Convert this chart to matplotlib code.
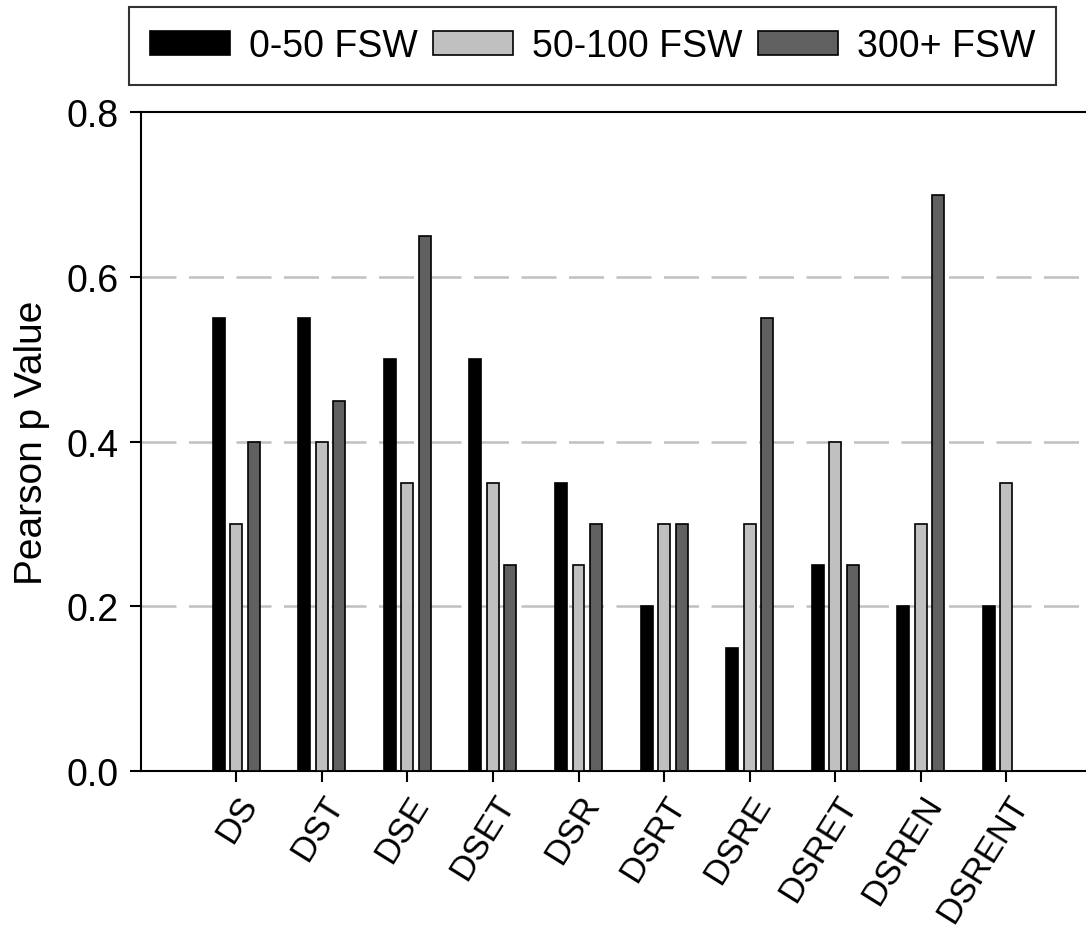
import numpy as np
import matplotlib
matplotlib.use('Agg')
import matplotlib.pyplot as plt

plt.rcParams['font.family'] = ['Liberation Sans', 'DejaVu Sans']

models = ['DS', 'DST', 'DSE', 'DSET', 'DSR', 'DSRT', 'DSRE', 'DSRET', 'DSREN', 'DSRENT']
shallow = [0.55, 0.55, 0.50, 0.50, 0.35, 0.20, 0.15, 0.25, 0.20, 0.20]
mid = [0.30, 0.40, 0.35, 0.35, 0.25, 0.30, 0.30, 0.40, 0.30, 0.35]
deep = [0.40, 0.45, 0.65, 0.25, 0.30, 0.30, 0.55, 0.25, 0.70, 0.0]
series_names = ['0-50 FSW', '50-100 FSW', '300+ FSW']

fs = 27

fig = plt.figure(figsize=(10.86, 9.37), dpi=100)
ax = fig.add_axes([0.13, 0.176, 0.87, 0.703])

x = np.arange(len(models))
w = 0.14
step = 0.205
ax.bar(x - step, shallow, w, color='black', edgecolor='black', linewidth=1.2,
       label=series_names[0], zorder=3)
ax.bar(x, mid, w, color='#c0c0c0', edgecolor='black', linewidth=1.2,
       label=series_names[1], zorder=3)
ax.bar(x + step, deep, w, color='#606060', edgecolor='black', linewidth=1.2,
       label=series_names[2], zorder=3)

ax.set_xlim(-1.11, 9.93)
ax.set_ylim(0, 0.8)
ax.set_yticks([0.0, 0.2, 0.4, 0.6, 0.8])
ax.set_yticklabels(['%.1f' % v for v in [0.0, 0.2, 0.4, 0.6, 0.8]], fontsize=fs)
ax.set_xticks(x)
ax.set_xticklabels(models, rotation=58, ha='right', rotation_mode='anchor', fontsize=25)
ax.tick_params(axis='both', direction='out', length=8, width=1.5, pad=5)
ax.tick_params(axis='y', pad=8)
ax.set_ylabel('Pearson p Value', fontsize=28, labelpad=12)

for gy in [0.2, 0.4, 0.6]:
    ax.axhline(gy, color='#c0c0c0', linewidth=1.8, dashes=(14, 5), zorder=1)

for side in ['left', 'bottom', 'top']:
    ax.spines[side].set_linewidth(1.5)
ax.spines['right'].set_visible(False)

leg = fig.legend(loc='center', bbox_to_anchor=(0.5456, 0.9498), ncol=3,
                 fontsize=fs, frameon=True, fancybox=False, edgecolor='black',
                 handlelength=2.15, handleheight=0.6, handletextpad=0.5,
                 columnspacing=0.4, borderpad=0.55)
leg.get_frame().set_linewidth(1.5)

fig.savefig('out.png', dpi=100)
